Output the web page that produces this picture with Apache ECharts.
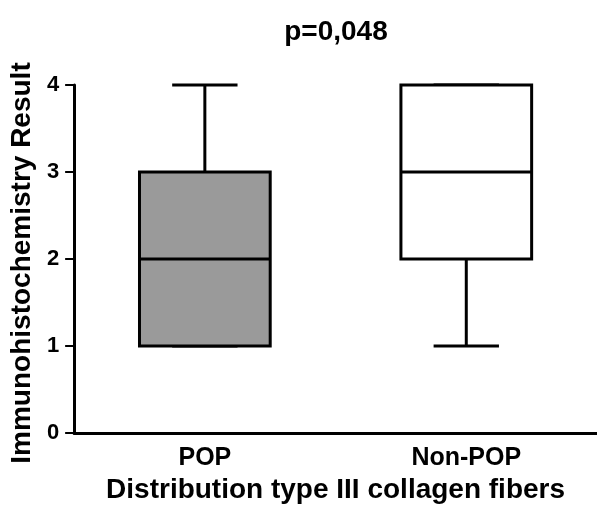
<!DOCTYPE html>
<html><head><meta charset="utf-8">
<script src="https://cdn.jsdelivr.net/npm/echarts@6/dist/echarts.min.js"></script>
<style>html,body{margin:0;padding:0;background:#fff}#c{width:597px;height:512px}</style>
</head><body><div id="c"></div>
<script>
var categories = ['POP', 'Non-POP'];
var minVals = [1, 1];
var q1Vals = [1, 2];
var medianVals = [2, 3];
var q3Vals = [3, 4];
var maxVals = [4, 4];
var yTicks = [0, 1, 2, 3, 4];
var titleText = 'p=0,048';
var xName = 'Distribution type III collagen fibers';
var yName = 'Immunohistochemistry Result';

var fills = ['#9a9a9a', '#ffffff'];
var FONT = 'Liberation Sans';

var data = categories.map(function (c, i) {
  return [i, minVals[i], q1Vals[i], medianVals[i], q3Vals[i], maxVals[i]];
});

var chart = echarts.init(document.getElementById('c'), null, {renderer: 'canvas'});
chart.setOption({
  animation: false,
  backgroundColor: '#fff',
  title: {
    text: titleText, left: 331, top: 13, textAlign: 'center',
    textStyle: {fontFamily: FONT, fontWeight: 'bold', fontSize: 28, color: '#000'}
  },
  grid: {left: 74, right: 0, top: 85, bottom: 79, containLabel: false},
  xAxis: {
    type: 'category', data: categories, boundaryGap: true,
    name: xName, nameLocation: 'middle', nameGap: 35,
    nameTextStyle: {fontFamily: FONT, fontWeight: 'bold', fontSize: 28, color: '#000'},
    axisLine: {lineStyle: {color: '#000', width: 3}},
    axisTick: {alignWithLabel: true, length: 8, lineStyle: {color: '#000', width: 2}},
    axisLabel: {fontFamily: FONT, fontWeight: 'bold', fontSize: 25, color: '#000', margin: 13},
    splitLine: {show: false}
  },
  yAxis: {
    type: 'value', min: 0, max: 4, interval: 1,
    name: yName, nameLocation: 'middle', nameGap: 36,
    nameTextStyle: {fontFamily: FONT, fontWeight: 'bold', fontSize: 28, color: '#000', padding: [0, 8, 0, 0]},
    axisLine: {show: true, lineStyle: {color: '#000', width: 3}},
    axisTick: {show: true, length: 9, lineStyle: {color: '#000', width: 2}},
    axisLabel: {fontFamily: FONT, fontWeight: 'bold', fontSize: 22, color: '#000', margin: 15,
      formatter: function (v) { return yTicks.indexOf(v) >= 0 ? String(v) : ''; }},
    splitLine: {show: false}
  },
  series: [{
    type: 'custom',
    data: data,
    encode: {x: 0, y: [1, 2, 3, 4, 5]},
    renderItem: function (params, api) {
      var idx = api.value(0);
      var band = api.size([1, 0])[0];
      var bw = band * 0.5;
      var cw = bw * 0.5;
      var pMin = api.coord([idx, api.value(1)]);
      var pQ1 = api.coord([idx, api.value(2)]);
      var pMed = api.coord([idx, api.value(3)]);
      var pQ3 = api.coord([idx, api.value(4)]);
      var pMax = api.coord([idx, api.value(5)]);
      var x = pMed[0];
      var ls = {stroke: '#000', lineWidth: 3, fill: null};
      var children = [
        {type: 'line', shape: {x1: x, y1: pQ3[1], x2: x, y2: pMax[1]}, style: ls},
        {type: 'line', shape: {x1: x - cw / 2, y1: pMax[1], x2: x + cw / 2, y2: pMax[1]}, style: ls},
        {type: 'line', shape: {x1: x, y1: pQ1[1], x2: x, y2: pMin[1]}, style: ls},
        {type: 'line', shape: {x1: x - cw / 2, y1: pMin[1], x2: x + cw / 2, y2: pMin[1]}, style: ls},
        {type: 'rect', shape: {x: x - bw / 2, y: pQ3[1], width: bw, height: pQ1[1] - pQ3[1]},
          style: {fill: fills[params.dataIndex], stroke: '#000', lineWidth: 3}},
        {type: 'line', shape: {x1: x - bw / 2, y1: pMed[1], x2: x + bw / 2, y2: pMed[1]}, style: ls}
      ];
      return {type: 'group', children: children};
    }
  }]
});
</script></body></html>
